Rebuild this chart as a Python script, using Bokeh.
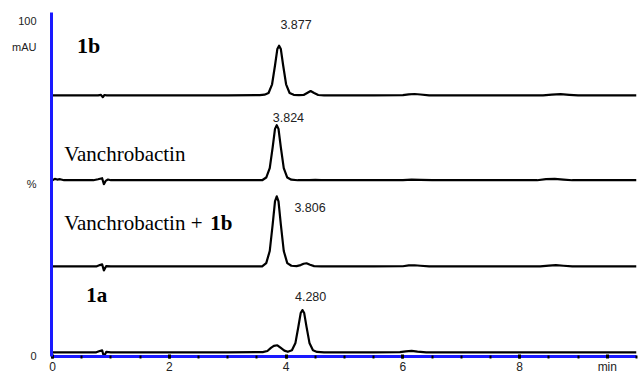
from bokeh.plotting import figure
from bokeh.models import Label, FixedTicker, Range1d
from bokeh.embed import file_html
from bokeh.resources import INLINE

# ---- data (retention time in min, signal relative to each trace's baseline) ----
t_1b = [0, 0.5, 0.78, 0.83, 0.86, 0.89, 0.93, 1.2, 2.0, 3.0, 3.55, 3.63, 3.70, 3.76, 3.81, 3.85, 3.88,
        3.91, 3.95, 4.00, 4.06, 4.13, 4.22, 4.30, 4.36, 4.42, 4.48, 4.55, 4.65, 5.5, 6.0, 6.10, 6.20,
        6.30, 6.45, 7.5, 8.4, 8.55, 8.7, 8.85, 9.0, 10.0]
s_1b = [0, 0, 0, 0.15, -0.55, 0.1, 0, 0, 0, 0, 0.05, 0.2, 0.7, 3.3, 8.9, 13.8, 14.8,
        13.8, 8.9, 3.3, 0.7, 0.15, 0.05, 0.1, 0.7, 1.3, 0.7, 0.1, 0, 0, 0.05, 0.3, 0.4,
        0.25, 0, 0, 0, 0.2, 0.35, 0.15, 0, 0]

t_v = [0, 0.04, 0.08, 0.13, 0.2, 0.5, 0.7, 0.78, 0.85, 0.88, 0.91, 0.95, 1.0, 1.5, 2.5, 3.3, 3.59,
       3.66, 3.72, 3.77, 3.81, 3.84, 3.87, 3.91, 3.96, 4.02, 4.09, 4.20, 4.40, 4.5, 4.6, 5.5, 6.0,
       6.15, 6.3, 6.5, 7.5, 8.3, 8.45, 8.6, 8.75, 8.9, 10.0]
s_v = [0, 0.4, 0.2, 0.3, 0, 0, 0, 0.3, 0.6, -1.2, -0.2, 0.2, 0, 0, 0, 0, 0,
       0.8, 3.6, 9.8, 15.3, 16.4, 15.3, 9.8, 3.6, 0.8, 0.15, 0, 0, 0.1, 0, 0, 0,
       0.15, 0.1, 0, 0, 0, 0.3, 0.4, 0.2, 0, 0]

t_mix = [0, 0.5, 0.75, 0.81, 0.85, 0.88, 0.92, 1.0, 2.0, 3.0, 3.59, 3.66, 3.72, 3.77, 3.81, 3.84,
         3.87, 3.91, 3.96, 4.02, 4.09, 4.18, 4.25, 4.30, 4.35, 4.41, 4.48, 4.6, 5.5, 6.0, 6.1, 6.2,
         6.3, 6.45, 7.5, 8.35, 8.5, 8.62, 8.75, 8.9, 10.0]
s_mix = [0, 0, 0, 0.4, 0.6, -1.2, 0.1, 0, 0, 0, 0, 1.0, 4.6, 12.5, 19.4, 20.9,
         19.4, 12.5, 4.6, 1.0, 0.2, 0.1, 0.4, 0.8, 0.95, 0.5, 0.1, 0, 0, 0.05, 0.3, 0.35,
         0.2, 0, 0, 0, 0.25, 0.4, 0.2, 0, 0]

t_1a = [0, 0.5, 0.75, 0.81, 0.85, 0.88, 0.92, 1.0, 2.0, 3.0, 3.6, 3.68, 3.74, 3.79, 3.85, 3.91,
        3.97, 4.03, 4.10, 4.16, 4.21, 4.25, 4.28, 4.31, 4.35, 4.40, 4.46, 4.53, 4.65, 5.5, 5.95,
        6.05, 6.15, 6.25, 6.4, 7.5, 9.0, 10.0]
s_1a = [0, 0, 0, 0.4, 0.6, -1.3, 0.1, 0, 0, 0, 0.05, 0.4, 1.3, 1.9, 2.1, 1.3,
        0.5, 0.15, 0.6, 2.8, 7.6, 11.7, 12.6, 11.7, 7.6, 2.8, 0.6, 0.1, 0, 0, 0.05,
        0.3, 0.4, 0.2, 0, 0, 0, 0]

baselines = {"1b": 77.8, "v": 52.5, "mix": 26.8, "1a": 1.2}

x_ticks = [0, 2, 4, 6, 8, 9.5]
x_tick_labels = {9.5: "min"}
y_ticks = [0, 51.3, 92.1, 100]
y_tick_labels = {0: "0", 51.3: "%", 92.1: "mAU", 100: "100"}

peak_labels = ["3.877", "3.824", "3.806", "4.280"]
peak_label_x = [4.17, 4.04, 4.41, 4.42]
peak_label_y = [99.0, 71.2, 44.5, 17.7]

# ---- figure ----
p = figure(width=638, height=376, output_backend="svg", toolbar_location=None,
           x_range=Range1d(-0.017, 10.0), y_range=Range1d(-0.05, 102.5),
           min_border_left=51, min_border_right=2, min_border_top=12, min_border_bottom=20)
p.outline_line_color = None
p.xgrid.visible = False
p.ygrid.visible = False
p.background_fill_color = "white"
p.border_fill_color = "white"

for t, s, key in [(t_1b, s_1b, "1b"), (t_v, s_v, "v"), (t_mix, s_mix, "mix"), (t_1a, s_1a, "1a")]:
    y = [v + baselines[key] for v in s]
    p.line(t, y, line_color="black", line_width=2.2, line_join="round")

blue = "#1a1aff"
xa = p.xaxis[0]
xa.ticker = FixedTicker(ticks=x_ticks, minor_ticks=[i * 0.5 for i in range(0, 21) if i != 19])
xa.major_label_overrides = x_tick_labels
xa.axis_line_color = blue
xa.axis_line_width = 3
xa.major_tick_line_color = "black"
xa.major_tick_line_width = 3
xa.major_tick_in = 2
xa.major_tick_out = 2
xa.minor_tick_line_color = "black"
xa.minor_tick_line_width = 2
xa.minor_tick_in = 1
xa.minor_tick_out = 2
xa.major_label_text_font = "Liberation Sans"
xa.major_label_text_font_size = "12px"
xa.major_label_text_color = "#222222"
xa.major_label_standoff = 1

ya = p.yaxis[0]
ya.ticker = FixedTicker(ticks=y_ticks)
ya.major_label_overrides = y_tick_labels
ya.axis_line_color = blue
ya.axis_line_width = 3
ya.major_tick_line_color = None
ya.minor_tick_line_color = None
ya.major_label_text_font = "Liberation Sans"
ya.major_label_text_font_size = "11px"
ya.major_label_text_color = "#222222"
ya.major_label_standoff = 9

for txt, x, y in zip(peak_labels, peak_label_x, peak_label_y):
    p.add_layout(Label(x=x, y=y, text=txt, text_align="center", text_baseline="middle",
                       text_font="Liberation Sans", text_font_size="12.5px", text_color="#222222"))

serif = "Liberation Serif"
names = [("1b", 0.42, 92.7, "bold", "22px"), ("Vanchrobactin", 0.2, 60.2, "normal", "21px"),
         ("Vanchrobactin +", 0.2, 39.6, "normal", "21px"),
         ("1b", 2.7, 39.6, "bold", "21px"), ("1a", 0.58, 18.2, "bold", "21px")]
for txt, x, y, style, size in names:
    p.add_layout(Label(x=x, y=y, text=txt, text_align="left", text_baseline="middle",
                       text_font=serif, text_font_size=size, text_font_style=style,
                       text_color="black"))

open("out.html", "w").write(file_html(p, INLINE))
